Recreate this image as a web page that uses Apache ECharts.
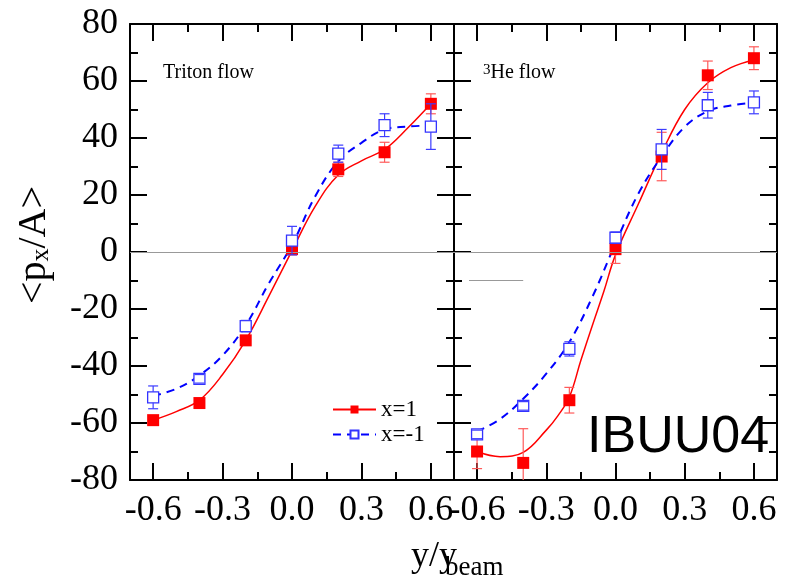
<!DOCTYPE html>
<html><head><meta charset="utf-8">
<script src="https://cdn.jsdelivr.net/npm/echarts@6/dist/echarts.min.js"></script>
<style>html,body{margin:0;padding:0;background:#fff}#c{width:791px;height:587px}</style>
</head><body><div id="c"></div>
<script>
// ---- data ----
const pointX = [-0.6, -0.4, -0.2, 0, 0.2, 0.4, 0.6];
const tritonX1 = [-59, -53, -31, 1, 29, 35, 52];
const tritonX1Err = [1, 1, 1, 2, 2.5, 3.5, 3.5];
const tritonXm1 = [-51, -44.5, -26, 4, 34.5, 44.5, 44];
const tritonXm1Err = [4, 1.5, 2, 5, 3, 4, 8];
const he3X1 = [-70, -74, -52, 1, 33.5, 62, 68];
const he3X1Err = [6, 12, 4.5, 5, 8.5, 5, 4];
const he3Xm1 = [-64, -54, -34, 5, 36, 51.5, 52.5];
const he3Xm1Err = [1.5, 1.5, 2.5, 2, 7, 4.5, 4];

const curveX = [-0.6, -0.5, -0.4, -0.3, -0.2, -0.1, 0, 0.1, 0.2, 0.3, 0.4, 0.5, 0.6];
const tritonX1Curve = [-59, -56, -52, -43, -31, -15.5, 0.5, 16, 27, 32, 36, 43.5, 52];
const tritonXm1Curve = [-50.5, -48, -43.3, -36.3, -25.7, -11, 2.5, 19.5, 31.8, 38.3, 43, 44, 44.4];
const he3X1CurveX = [-0.6, -0.5, -0.4, -0.3, -0.25, -0.2, -0.15, -0.1, -0.05, 0, 0.1, 0.2, 0.3, 0.4, 0.5, 0.6];
const he3X1Curve = [-70, -71.8, -70.3, -62.5, -57.5, -50.9, -38, -25.7, -13.7, -1, 17, 34.8, 50, 59.4, 64.7, 67.4];
const he3Xm1Curve = [-63, -58.6, -51.5, -42.7, -31.6, -15.7, 3, 20.6, 33.5, 43.9, 49.4, 51.4, 52.4];

const xMajorTicks = [-0.6, -0.3, 0, 0.3, 0.6];
const xMinorTicks = [-0.45, -0.15, 0.15, 0.45];
const strayLineX = [-0.635, -0.4];
const strayLineY = -10;

const seriesNames = ['x=1', 'x=-1'];
const panelLabels = ['Triton flow', '3He flow'];
const modelLabel = 'IBUU04';

// ---- helpers ----
const SERIF = '"Liberation Serif", "Times New Roman", serif';
const RED = '#ff0000', BLUE = '#0000ff';
const RED_ERR = '#ff5a5a', BLUE_ERR = '#3c3cff';

function pairs(xs, ys) { return xs.map((x, i) => [x, ys[i]]); }
function triples(xs, ys, es) { return xs.map((x, i) => [x, ys[i], es[i]]); }

function errRender(color, halfHide) {
  return function (params, api) {
    const x = api.value(0), y = api.value(1), e = api.value(2);
    const c = api.coord([x, y]);
    const t = api.coord([x, y + e]);
    const b = api.coord([x, y - e]);
    const cs = params.coordSys;
    const yTop = Math.max(t[1], cs.y), yBot = Math.min(b[1], cs.y + cs.height);
    const st = { stroke: color, lineWidth: 1.2 };
    const ch = [];
    if (yTop < c[1] - halfHide) ch.push({ type: 'line', shape: { x1: c[0], y1: yTop, x2: c[0], y2: c[1] - halfHide }, style: st });
    if (yBot > c[1] + halfHide) ch.push({ type: 'line', shape: { x1: c[0], y1: c[1] + halfHide, x2: c[0], y2: yBot }, style: st });
    if (t[1] >= cs.y) ch.push({ type: 'line', shape: { x1: c[0] - 5, y1: t[1], x2: c[0] + 5, y2: t[1] }, style: st });
    if (b[1] <= cs.y + cs.height) ch.push({ type: 'line', shape: { x1: c[0] - 5, y1: b[1], x2: c[0] + 5, y2: b[1] }, style: st });
    return { type: 'group', children: ch };
  };
}

const grids = [
  { left: 130, top: 24, width: 324, height: 456 },
  { left: 454, top: 24, width: 323, height: 456 }
];

const xAxes = [], yAxes = [];
grids.forEach((g, gi) => {
  ['bottom', 'top'].forEach(pos => {
    xAxes.push({
      type: 'value', gridIndex: gi, position: pos, min: -0.7, max: 0.7,
      axisLine: { show: true, onZero: false, lineStyle: { color: '#000', width: 2 } },
      axisTick: { show: true, inside: true, length: 17, customValues: xMajorTicks, lineStyle: { color: '#000', width: 2 } },
      axisLabel: pos === 'bottom' ? {
        show: true, customValues: xMajorTicks, margin: 13, color: '#000', fontSize: 36, fontFamily: SERIF,
        formatter: v => Number(v).toFixed(1)
      } : { show: false },
      splitLine: { show: false }
    });
    xAxes.push({
      type: 'value', gridIndex: gi, position: pos, min: -0.7, max: 0.7,
      axisLine: { show: false, onZero: false },
      axisTick: { show: true, inside: true, length: 8, customValues: xMinorTicks, lineStyle: { color: '#000', width: 2 } },
      axisLabel: { show: false },
      splitLine: { show: false }
    });
  });
  ['left', 'right'].forEach(pos => {
    yAxes.push({
      type: 'value', gridIndex: gi, position: pos, min: -80, max: 80, interval: 20,
      axisLine: { show: true, onZero: false, lineStyle: { color: '#000', width: 2 } },
      axisTick: { show: true, inside: true, length: 17, lineStyle: { color: '#000', width: 2 } },
      minorTick: { show: true, splitNumber: 2, length: 8, lineStyle: { color: '#000', width: 2 } },
      axisLabel: (gi === 0 && pos === 'left') ? { show: true, margin: 12, color: '#000', fontSize: 36, fontFamily: SERIF } : { show: false },
      splitLine: { show: false }
    });
  });
});

const panels = [
  { x1: tritonX1, x1e: tritonX1Err, xm1: tritonXm1, xm1e: tritonXm1Err, c1x: curveX, c1: tritonX1Curve, cm1: tritonXm1Curve },
  { x1: he3X1, x1e: he3X1Err, xm1: he3Xm1, xm1e: he3Xm1Err, c1x: he3X1CurveX, c1: he3X1Curve, cm1: he3Xm1Curve }
];

const series = [];
// curves first (legend icon source)
panels.forEach((p, pi) => {
  const xi = pi * 4, yi = pi * 2;
  const markData = [{ yAxis: 0 }];
  if (pi === 1) markData.push([{ coord: [strayLineX[0], strayLineY] }, { coord: [strayLineX[1], strayLineY] }]);
  series.push({
    name: seriesNames[0], type: 'line', xAxisIndex: xi, yAxisIndex: yi,
    data: pairs(p.c1x, p.c1), smooth: 0.4, symbol: 'rect', showSymbol: false, z: 2,
    lineStyle: { color: RED, width: 1.5 }, itemStyle: { color: RED },
    silent: true,
    markLine: {
      silent: true, symbol: 'none', animation: false, label: { show: false },
      lineStyle: { color: '#999', width: 1, type: 'solid' }, data: markData
    }
  });
  series.push({
    name: seriesNames[1], type: 'line', xAxisIndex: xi, yAxisIndex: yi,
    data: pairs(curveX, p.cm1), smooth: 0.4, symbol: 'rect', showSymbol: false, z: 2,
    lineStyle: { color: BLUE, width: 2, type: [8, 6] },
    itemStyle: { color: '#fff', borderColor: '#3333ff', borderWidth: 1.3 },
    silent: true
  });
});
panels.forEach((p, pi) => {
  const xi = pi * 4, yi = pi * 2;
  series.push({
    name: 'err1_' + pi, type: 'custom', xAxisIndex: xi, yAxisIndex: yi, z: 3,
    renderItem: errRender(RED_ERR, 0), data: triples(pointX, p.x1, p.x1e), silent: true
  });
  series.push({
    name: 'pt1_' + pi, type: 'scatter', xAxisIndex: xi, yAxisIndex: yi, z: 4,
    data: pairs(pointX, p.x1), symbol: 'rect', symbolSize: 12, itemStyle: { color: RED, opacity: 1 }, silent: true
  });
  series.push({
    name: 'ptm1_' + pi, type: 'scatter', xAxisIndex: xi, yAxisIndex: yi, z: 5,
    data: pairs(pointX, p.xm1), symbol: 'rect', symbolSize: 11,
    itemStyle: { color: '#fff', borderColor: '#3333ff', borderWidth: 1.3, opacity: 1 }, silent: true
  });
  series.push({
    name: 'errm1_' + pi, type: 'custom', xAxisIndex: xi, yAxisIndex: yi, z: 6,
    renderItem: errRender(BLUE_ERR, 5.5), data: triples(pointX, p.xm1, p.xm1e), silent: true
  });
});

const option = {
  backgroundColor: '#fff',
  animation: false,
  grid: grids,
  xAxis: xAxes,
  yAxis: yAxes,
  legend: {
    data: seriesNames, orient: 'vertical', left: 332, top: 398, padding: 0,
    itemWidth: 43, itemHeight: 10, itemGap: 2, selectedMode: false,
    textStyle: { color: '#000', fontSize: 23, fontFamily: SERIF }
  },
  graphic: [
    { type: 'text', x: 163, y: 73, style: { text: panelLabels[0], fontSize: 20, fontFamily: SERIF, fill: '#000', align: 'left', verticalAlign: 'middle' } },
    { type: 'text', x: 483, y: 73, style: {
      text: '{sup|' + panelLabels[1].slice(0, 1) + '}' + panelLabels[1].slice(1), fontSize: 20, fontFamily: SERIF, fill: '#000', align: 'left', verticalAlign: 'middle',
      rich: { sup: { fontSize: 15, fontFamily: SERIF, fill: '#000', verticalAlign: 'top', lineHeight: 12 } } } },
    { type: 'text', x: 587, y: 438, style: { text: modelLabel, fontSize: 52, fontFamily: '"Liberation Sans", Arial, sans-serif', fill: '#000', align: 'left', verticalAlign: 'middle' } },
    { type: 'text', x: 34, y: 245, rotation: Math.PI / 2, style: {
      text: '<p{s|x}/A>', fontSize: 40, fontFamily: SERIF, fill: '#000', align: 'center', verticalAlign: 'middle',
      rich: { s: { fontSize: 26, fontFamily: SERIF, fill: '#000', verticalAlign: 'bottom', lineHeight: 26 } } } },
    { type: 'text', x: 457, y: 557, style: { text: 'y/y', fontSize: 36, fontFamily: SERIF, fill: '#000', align: 'right', verticalAlign: 'middle' } },
    { type: 'text', x: 445, y: 568, style: { text: 'beam', fontSize: 27, fontFamily: SERIF, fill: '#000', align: 'left', verticalAlign: 'middle' } }
  ],
  series: series
};

const chart = echarts.init(document.getElementById('c'), null, { renderer: 'canvas' });
chart.setOption(option);
</script>
</body></html>
